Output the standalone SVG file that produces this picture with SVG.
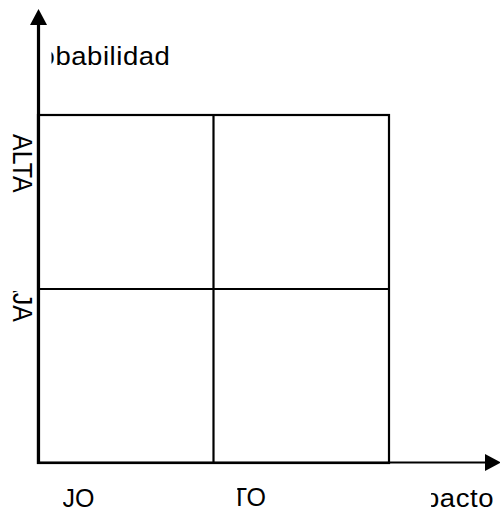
<svg xmlns="http://www.w3.org/2000/svg" width="500" height="516" viewBox="0 0 500 516">
  <style>
    .lbl { font-family: "Liberation Sans", Arial, sans-serif; font-size: 25px; fill: #000; }
    .lc { letter-spacing: 0.5px; }
    .grid { fill: none; stroke: #000; stroke-width: 2.2; }
    .axis { fill: none; stroke: #000; }
  </style>
  <defs>
    <marker id="arrow" markerUnits="userSpaceOnUse" markerWidth="16" markerHeight="17" refX="0" refY="8.5" orient="auto" overflow="visible">
      <path d="M0,0 L16,8.5 L0,17 Z" fill="#000"/>
    </marker>
    <clipPath id="cProb"><rect x="51.5" y="0" width="200" height="110"/></clipPath>
    <clipPath id="cBaja"><rect x="0" y="291" width="36" height="100"/></clipPath>
    <clipPath id="cBajo"><rect x="63" y="470" width="100" height="46"/></clipPath>
    <clipPath id="cAlto"><rect x="237.3" y="470" width="100" height="46"/></clipPath>
    <clipPath id="cImp"><rect x="431" y="470" width="69" height="46"/></clipPath>
  </defs>

  <g id="grid">
    <rect class="grid" x="38" y="115" width="351" height="348"/>
    <line class="grid" x1="213.5" y1="115" x2="213.5" y2="463"/>
    <line class="grid" x1="38" y1="289" x2="389" y2="289"/>
  </g>

  <g id="connectors">
    <line class="axis" x1="38.5" y1="464" x2="38.5" y2="25" stroke-width="3.2" marker-end="url(#arrow)"/>
    <line class="axis" x1="37" y1="462.5" x2="485" y2="462.5" stroke-width="2" marker-end="url(#arrow)"/>
  </g>

  <g id="label-probabilidad" clip-path="url(#cProb)">
    <text class="lbl lc" transform="translate(170.4,65) scale(1.1,1)" x="0" y="0" text-anchor="end">Probabilidad</text>
  </g>
  <g id="label-alta">
    <text class="lbl" transform="translate(13,134) rotate(90) scale(1,1.13)" x="0" y="0">ALTA</text>
  </g>
  <g id="label-baja" clip-path="url(#cBaja)">
    <text class="lbl" transform="translate(13,259.5) rotate(90) scale(1,1.13)" x="0" y="0">BAJA</text>
  </g>
  <g id="label-bajo" clip-path="url(#cBajo)">
    <text class="lbl" x="94.5" y="506.5" text-anchor="end">BAJO</text>
  </g>
  <g id="label-alto" clip-path="url(#cAlto)">
    <text class="lbl" x="266" y="506" text-anchor="end">ALTO</text>
  </g>
  <g id="label-impacto" clip-path="url(#cImp)">
    <text class="lbl lc" transform="translate(494,506.5) scale(1.1,1)" x="0" y="0" text-anchor="end">Impacto</text>
  </g>
</svg>
